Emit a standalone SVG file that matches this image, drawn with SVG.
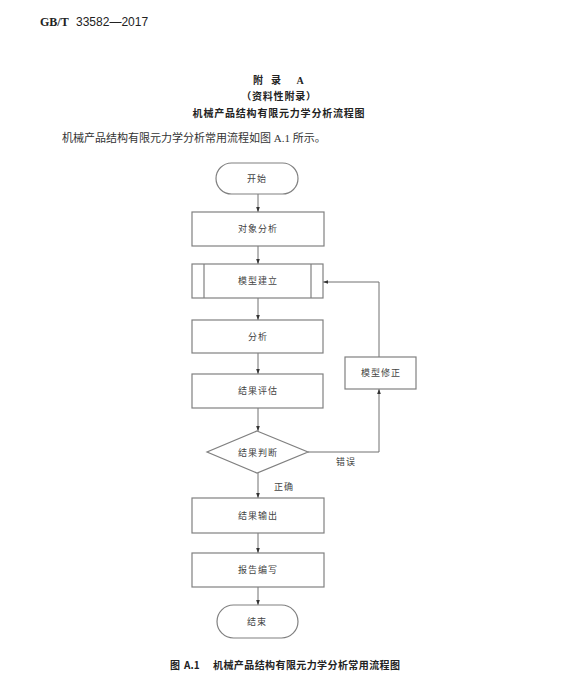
<svg xmlns="http://www.w3.org/2000/svg" width="565" height="700" viewBox="0 0 565 700">
<style>
.bg{fill:#fff}
.box{fill:#fff;stroke:#808080;stroke-width:1.2}
.ln{fill:none;stroke:#707070;stroke-width:1}
.t{font-family:"Noto Sans CJK SC",sans-serif;font-size:9px;fill:#444;text-anchor:middle;letter-spacing:1px}
.h{font-family:"Noto Sans CJK SC",sans-serif;font-weight:bold;font-size:10px;fill:#222;text-anchor:middle}
.body{font-family:"Liberation Serif","Noto Sans CJK SC",serif;font-size:11px;fill:#333}
</style>
<defs>
<marker id="ar" viewBox="0 0 6 6" refX="6" refY="3" markerWidth="5" markerHeight="5" orient="auto">
<path d="M0,0.8 L6,3 L0,5.2 z" fill="#333"/>
</marker>
</defs>
<rect class="bg" x="0" y="0" width="565" height="700"/>
<text x="40" y="26" style="font-family:'Liberation Serif',serif;font-size:12px;fill:#222"><tspan font-weight="bold">GB/T</tspan><tspan font-family="Liberation Sans" dx="4"> 33582—2017</tspan></text>
<text class="h" x="258" y="84">附</text>
<text class="h" x="276" y="84">录</text>
<text class="h" x="300" y="84" style="font-family:'Liberation Serif',serif">A</text>
<text class="h" x="279" y="100" style="letter-spacing:0.8px">（资料性附录）</text>
<text class="h" x="279" y="117" style="letter-spacing:0.8px">机械产品结构有限元力学分析流程图</text>
<text class="body" x="62" y="142">机械产品结构有限元力学分析常用流程如图 A.1 所示。</text>
<g id="connectors">
<line class="ln" x1="258" y1="194" x2="258" y2="212" marker-end="url(#ar)"/>
<line class="ln" x1="258" y1="246" x2="258" y2="264" marker-end="url(#ar)"/>
<line class="ln" x1="258" y1="298" x2="258" y2="320" marker-end="url(#ar)"/>
<line class="ln" x1="258" y1="353" x2="258" y2="374" marker-end="url(#ar)"/>
<line class="ln" x1="258" y1="408" x2="258" y2="431" marker-end="url(#ar)"/>
<line class="ln" x1="258" y1="473" x2="258" y2="498" marker-end="url(#ar)"/>
<line class="ln" x1="258" y1="533" x2="258" y2="553" marker-end="url(#ar)"/>
<line class="ln" x1="258" y1="587" x2="258" y2="605" marker-end="url(#ar)"/>
<polyline class="ln" points="308,452 379,452 379,389" marker-end="url(#ar)"/>
<polyline class="ln" points="379,357 379,282 323,282" marker-end="url(#ar)"/>
<text class="t" x="346" y="465">错误</text>
<text class="t" x="284" y="490">正确</text>
</g>
<g id="start"><rect class="box" x="216" y="163" width="82" height="31" rx="15.5"/><text class="t" x="257" y="182">开始</text></g>
<g id="n1"><rect class="box" x="192" y="212" width="132" height="34"/><text class="t" x="258" y="232">对象分析</text></g>
<g id="n2"><rect class="box" x="192" y="264" width="131" height="34"/><line class="box" x1="204" y1="264" x2="204" y2="298"/><line class="box" x1="311" y1="264" x2="311" y2="298"/><text class="t" x="258" y="284">模型建立</text></g>
<g id="n3"><rect class="box" x="192" y="320" width="131" height="33"/><text class="t" x="258" y="340">分析</text></g>
<g id="n4"><rect class="box" x="192" y="374" width="131" height="34"/><text class="t" x="258" y="394">结果评估</text></g>
<g id="n5"><polygon class="box" points="257,431 308,452 257,473 207,452"/><text class="t" x="258" y="456">结果判断</text></g>
<g id="n6"><rect class="box" x="345" y="357" width="71" height="32"/><text class="t" x="381" y="376">模型修正</text></g>
<g id="n7"><rect class="box" x="192" y="498" width="132" height="35"/><text class="t" x="258" y="519">结果输出</text></g>
<g id="n8"><rect class="box" x="192" y="553" width="132" height="34"/><text class="t" x="258" y="573">报告编写</text></g>
<g id="end"><rect class="box" x="217" y="605" width="81" height="33" rx="16.5"/><text class="t" x="257" y="625">结束</text></g>
<text class="h" x="170" y="669" style="text-anchor:start">图</text>
<text class="h" x="184" y="669" style="text-anchor:start">A.1</text>
<text class="h" x="213" y="669" style="text-anchor:start" textLength="187" lengthAdjust="spacing">机械产品结构有限元力学分析常用流程图</text>
</svg>
